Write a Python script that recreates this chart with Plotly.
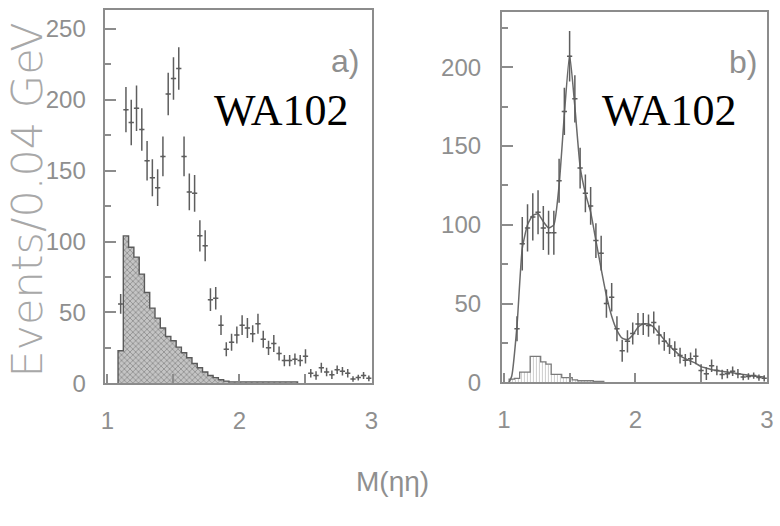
import plotly.graph_objects as go

# --- WA102 eta-eta mass spectra, 0.04 GeV bins ---------------------------
# Panel a): measured M(eta eta) distribution and hatched background histogram
mass_a = [1.10, 1.14, 1.18, 1.22, 1.26, 1.30, 1.34, 1.38, 1.42, 1.46, 1.50, 1.54,
          1.58, 1.62, 1.66, 1.70, 1.74, 1.78, 1.82, 1.86, 1.90, 1.94, 1.98, 2.02,
          2.06, 2.10, 2.14, 2.18, 2.22, 2.26, 2.30, 2.34, 2.38, 2.42, 2.46, 2.50,
          2.54, 2.58, 2.62, 2.66, 2.70, 2.74, 2.78, 2.82, 2.86, 2.90, 2.94, 2.98]
events_a = [56, 193, 184, 194, 179, 157, 145, 138, 160, 204, 215, 222,
            160, 135, 134, 104, 97, 59, 60, 41, 24, 29, 34, 41,
            39, 35, 42, 31, 25, 28, 21, 16, 16, 17, 16, 19,
            7, 5.5, 11, 8, 6, 9.5, 8.5, 7, 3, 4, 5.5, 3.5]
errors_a = [7, 16, 16, 16, 15, 14, 13, 13, 14, 15, 15, 15,
            14, 13, 13, 11, 11, 8, 8, 7, 5, 6, 6, 7,
            7, 6, 7, 6, 5, 6, 5, 4, 4, 4, 4, 5,
            3, 3, 3.5, 3, 3, 3, 3, 3, 2, 2, 2.5, 2]

bkg_mass_a = [1.10, 1.14, 1.18, 1.22, 1.26, 1.30, 1.34, 1.38, 1.42, 1.46, 1.50,
              1.54, 1.58, 1.62, 1.66, 1.70, 1.74, 1.78, 1.82, 1.86, 1.90, 1.94,
              1.98, 2.02, 2.06, 2.10, 2.14, 2.18, 2.22, 2.26, 2.30, 2.34, 2.38, 2.42]
bkg_events_a = [23, 104, 96, 89, 77, 64, 53, 46, 39, 33, 30,
                25.5, 21.5, 18, 14, 11, 8, 5.5, 4, 2.5, 1.5, 1,
                1, 1, 1, 1, 1, 1, 1, 1, 1, 1, 1, 1]

# Panel b): M(eta eta) distribution with fitted curve and small histogram
mass_b = mass_a
events_b = [34, 88, 98, 105, 108, 98, 95, 95, 128, 172, 207, 180,
            136, 120, 112, 90, 82, 50, 54, 34, 20, 26, 31, 37,
            37, 36, 38, 30, 26, 23, 21, 17, 14, 15, 16.5, 7.5,
            5.5, 10.5, 7.5, 5, 5.5, 7, 5.5, 3.3, 3.7, 4.3, 3, 2.5]
errors_b = [8, 17, 15, 15, 14, 14, 14, 14, 14, 15, 16, 15,
            13, 12, 12, 11, 11, 9, 9, 8, 7, 7, 7, 7,
            7, 7, 7, 6, 6, 5, 5, 5, 4, 4, 5, 4,
            4, 4, 3, 3, 3, 3, 3, 2, 2, 2, 2, 2]

fit_mass_b = [1.04, 1.06, 1.10, 1.14, 1.18, 1.22, 1.26, 1.30, 1.34, 1.38, 1.42,
              1.46, 1.50, 1.54, 1.58, 1.62, 1.66, 1.70, 1.74, 1.78, 1.82, 1.86,
              1.90, 1.94, 1.98, 2.02, 2.06, 2.10, 2.14, 2.18, 2.22, 2.26, 2.30,
              2.34, 2.38, 2.42, 2.46, 2.50, 2.54, 2.58, 2.62, 2.66, 2.70, 2.74,
              2.78, 2.82, 2.86, 2.90, 2.94, 2.98]
fit_events_b = [0, 4, 36, 85, 100, 106, 107, 102, 98, 100, 125,
                170, 208, 175, 137, 120, 108, 90, 72, 55, 42, 33,
                28, 27, 30, 35, 37, 37, 35, 31, 27, 23, 20,
                17, 15, 13.5, 12, 10, 9, 8, 7.5, 7, 6.5, 6,
                5.5, 5, 4.5, 4, 3.7, 3.4]

hist_mass_b = [1.06, 1.10, 1.14, 1.18, 1.22, 1.26, 1.30, 1.34, 1.38,
               1.42, 1.46, 1.50, 1.54, 1.58, 1.62, 1.66, 1.70, 1.74]
hist_events_b = [2, 2.5, 6.5, 6.5, 16.5, 16.5, 13, 11.5, 5,
                 5, 3, 3, 1.5, 1, 1, 1, 0.5, 0.5]

BIN = 0.04
AXIS_GREY = "#8c8c8c"
TEXT_GREY = "#8f8f8f"
POINT_GREY = "#5e5e5e"
W, H = 780, 526


def step_outline(centers, values):
    """Edges and heights for an 'hv' step line around a histogram."""
    xs = [c - BIN / 2 for c in centers] + [centers[-1] + BIN / 2]
    ys = list(values) + [0]
    return [xs[0]] + xs, [0] + ys


fig = go.Figure()

# ---- panel a) ----
fig.add_trace(go.Bar(
    x=bkg_mass_a, y=bkg_events_a, width=BIN, xaxis="x", yaxis="y",
    marker=dict(color="#b9b9b9", line=dict(width=0),
                pattern=dict(shape="x", fgcolor="#5f5f5f", bgcolor="#c4c4c4",
                             size=4, solidity=0.4)),
    showlegend=False, hoverinfo="skip"))
ox, oy = step_outline(bkg_mass_a, bkg_events_a)
fig.add_trace(go.Scatter(x=ox, y=oy, mode="lines", line_shape="hv",
                         line=dict(color="#5a5a5a", width=1.4),
                         xaxis="x", yaxis="y", showlegend=False))
fig.add_trace(go.Scatter(
    x=mass_a, y=events_a, mode="markers", xaxis="x", yaxis="y",
    marker=dict(size=2, color=POINT_GREY),
    error_y=dict(type="data", array=errors_a, width=0, thickness=1.5, color=POINT_GREY),
    error_x=dict(type="constant", value=BIN / 2, width=0, thickness=1.5, color=POINT_GREY),
    showlegend=False))

# ---- panel b) ----
fig.add_trace(go.Bar(
    x=hist_mass_b, y=hist_events_b, width=BIN, xaxis="x2", yaxis="y2",
    marker=dict(color="white", line=dict(width=0),
                pattern=dict(shape="|", fgcolor="#9a9a9a", bgcolor="white",
                             size=3, solidity=0.35)),
    showlegend=False, hoverinfo="skip"))
hx, hy = step_outline(hist_mass_b, hist_events_b)
fig.add_trace(go.Scatter(x=hx, y=hy, mode="lines", line_shape="hv",
                         line=dict(color="#7a7a7a", width=1.3),
                         xaxis="x2", yaxis="y2", showlegend=False))
fig.add_trace(go.Scatter(x=fit_mass_b, y=fit_events_b, mode="lines",
                         line=dict(color="#6a6a6a", width=1.5, shape="spline", smoothing=0.5),
                         xaxis="x2", yaxis="y2", showlegend=False))
fig.add_trace(go.Scatter(
    x=mass_b, y=events_b, mode="markers", xaxis="x2", yaxis="y2",
    marker=dict(size=2, color=POINT_GREY),
    error_y=dict(type="data", array=errors_b, width=0, thickness=1.5, color=POINT_GREY),
    error_x=dict(type="constant", value=BIN / 2, width=0, thickness=1.5, color=POINT_GREY),
    showlegend=False))

tick_font = dict(family="Liberation Sans Narrow, Liberation Sans, sans-serif",
                 size=24, color=TEXT_GREY)
axis_common = dict(showline=True, linecolor=AXIS_GREY, linewidth=2, mirror=True,
                   ticks="inside", tickcolor=AXIS_GREY, tickwidth=1.5,
                   showgrid=False, zeroline=False, tickfont=tick_font, fixedrange=True)

x_common = dict(axis_common, tickvals=[1, 2, 3], ticklen=9, ticklabelstandoff=15,
                minor=dict(tickvals=[1.5, 2.5], ticks="inside", ticklen=9,
                           tickcolor=AXIS_GREY, tickwidth=1.5))

fig.update_layout(
    width=W, height=H, margin=dict(l=0, r=0, t=0, b=0),
    paper_bgcolor="white", plot_bgcolor="white", bargap=0,
    xaxis=dict(x_common, domain=[101 / W, 372 / W], range=[0.978, 3.002], anchor="y"),
    yaxis=dict(axis_common, domain=[1 - 393 / H, 1 - 10 / H], range=[0, 263.5],
               tickvals=[0, 50, 100, 150, 200, 250], ticklen=11, ticklabelstandoff=12,
               minor=dict(dtick=25, ticks="inside", ticklen=6,
                          tickcolor=AXIS_GREY, tickwidth=1.5),
               anchor="x"),
    xaxis2=dict(x_common, domain=[504 / W, 773 / W], range=[0.985, 3.002], anchor="y2"),
    yaxis2=dict(axis_common, domain=[1 - 392 / H, 1 - 12 / H], range=[0, 235.3],
                tickvals=[0, 50, 100, 150, 200], ticklen=11, ticklabelstandoff=14,
                minor=dict(dtick=25, ticks="inside", ticklen=6,
                           tickcolor=AXIS_GREY, tickwidth=1.5),
                anchor="x2"),
)


def label(text, px, py, size, color, family, angle=0, weight="normal"):
    fig.add_annotation(text=text, x=px / W, y=1 - py / H, xref="paper", yref="paper",
                       showarrow=False, textangle=angle, xanchor="center", yanchor="middle",
                       font=dict(size=size, color=color, family=family, weight=weight))


label("a)", 345, 63, 32, TEXT_GREY, "Liberation Sans Narrow, Liberation Sans")
label("b)", 749, 64, 32, TEXT_GREY, "Liberation Sans Narrow, Liberation Sans")
label("WA102", 280, 113, 44, "black", "Liberation Serif, Times New Roman, serif")
label("WA102", 674, 113, 44, "black", "Liberation Serif, Times New Roman, serif")
label("Events/0.04 GeV", 22, 205, 43, "#a8a8a8",
      "DejaVu Sans ExtraLight, DejaVu Sans", angle=-90, weight=200)
label("M(ηη)", 393, 494, 28, TEXT_GREY, "Liberation Sans Narrow, Liberation Sans")

fig.write_html("out.html")
